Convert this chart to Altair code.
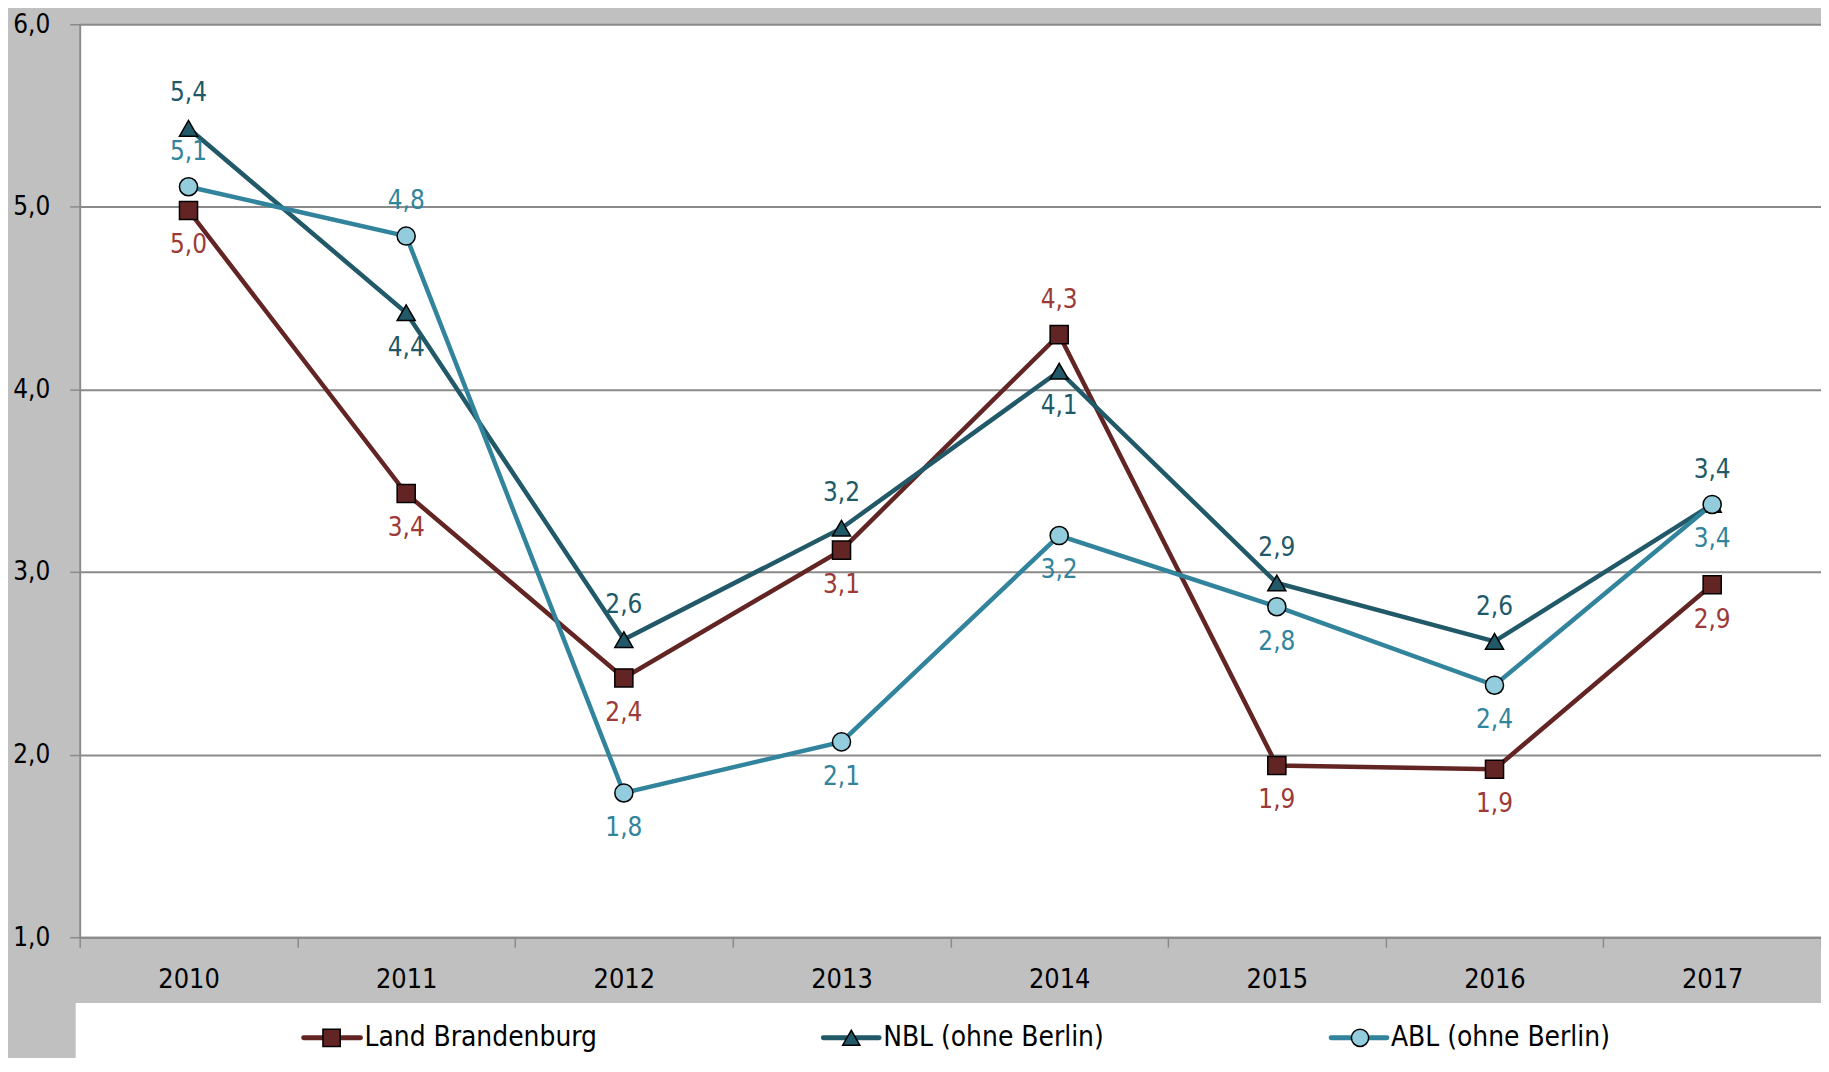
import altair as alt
import pandas as pd

years = ["2010", "2011", "2012", "2013", "2014", "2015", "2016", "2017"]
series_names = ["Land Brandenburg", "NBL (ohne Berlin)", "ABL (ohne Berlin)"]
brandenburg = [4.98, 3.43, 2.42, 3.12, 4.30, 1.94, 1.92, 2.93]
nbl = [5.43, 4.42, 2.63, 3.24, 4.10, 2.94, 2.62, 3.37]
abl = [5.11, 4.84, 1.79, 2.07, 3.20, 2.81, 2.38, 3.37]
brandenburg_pos = ["below", "below", "below", "below", "above", "below", "below", "below"]
nbl_pos = ["above", "below", "above", "above", "below", "above", "above", "above"]
abl_pos = ["above", "above", "below", "below", "below", "below", "below", "below"]
y_ticks = [1, 2, 3, 4, 5, 6]

line_colors = ["#632523", "#215968", "#31849B"]
marker_fills = ["#632523", "#215968", "#93CDDD"]
label_colors = ["#9B3A37", "#215968", "#31849B"]
shapes = ["square", "triangle-up", "circle"]

FONT = "DejaVu Sans Condensed, Liberation Sans Narrow, sans-serif"
GRID = "#8A8A8A"

W, H = 1749, 917

x_enc = alt.X(
    "year:O",
    scale=alt.Scale(type="band", domain=years, paddingInner=0, paddingOuter=0),
    bandPosition=0.5,
    axis=alt.Axis(
        title=None, labelAngle=0, tickBand="extent", tickSize=10, tickColor=GRID,
        tickWidth=1.5, domainColor=GRID, domainWidth=2, labelFontSize=27,
        labelFont=FONT, labelColor="black", labelPadding=20, grid=False,
    ),
)
y_enc = alt.Y(
    "value:Q",
    scale=alt.Scale(domain=[1, 6], nice=False, zero=False),
    axis=alt.Axis(
        title=None, values=y_ticks,
        labelExpr="replace(format(datum.value, '.1f'), '.', ',')",
        tickSize=10, tickColor=GRID, tickWidth=1.5, domainColor=GRID, domainWidth=2,
        grid=True, gridColor=GRID, gridWidth=2, labelFontSize=26, labelFont=FONT,
        labelColor="black", labelPadding=20,
    ),
)

layers = []

# white legend box
layers.append(
    alt.Chart(pd.DataFrame({"k": [0]})).mark_rect(color="white").encode(
        x=alt.value(-4), x2=alt.value(W), y=alt.value(983), y2=alt.value(1060)
    )
)

all_values = [brandenburg, nbl, abl]
all_pos = [brandenburg_pos, nbl_pos, abl_pos]

for i, name in enumerate(series_names):
    df = pd.DataFrame({
        "year": years,
        "value": all_values[i],
        "pos": all_pos[i],
    })
    df["label"] = [f"{v:.1f}".replace(".", ",") for v in df["value"]]
    base = alt.Chart(df)
    line = base.mark_line(color=line_colors[i], strokeWidth=4.5).encode(x=x_enc, y=y_enc)
    pts = base.mark_point(
        shape=shapes[i], filled=True, fill=marker_fills[i], stroke="black",
        strokeWidth=1.5, size=330, opacity=1,
    ).encode(x=x_enc, y=y_enc)
    above = base.transform_filter(alt.datum.pos == "above").mark_text(
        dy=-35, fontSize=26, font=FONT, color=label_colors[i], baseline="middle"
    ).encode(x=x_enc, y=y_enc, text="label:N")
    below = base.transform_filter(alt.datum.pos == "below").mark_text(
        dy=35, fontSize=26, font=FONT, color=label_colors[i], baseline="middle"
    ).encode(x=x_enc, y=y_enc, text="label:N")
    layers += [line, pts, above, below]

# legend entries
leg_rule_x = [(225, 282), (747, 803), (1257, 1313)]
leg_marker_x = [253, 775, 1286]
leg_text_x = [286, 807, 1317]
leg_y = 1018
for i, name in enumerate(series_names):
    ldf = pd.DataFrame({"series": [name]})
    lb = alt.Chart(ldf)
    layers.append(
        lb.mark_rule(color=line_colors[i], strokeWidth=5, strokeCap="round").encode(
            x=alt.value(leg_rule_x[i][0]), x2=alt.value(leg_rule_x[i][1]), y=alt.value(leg_y)
        )
    )
    layers.append(
        lb.mark_point(
            shape=shapes[i], filled=True, fill=marker_fills[i], stroke="black",
            strokeWidth=1.5, size=300, opacity=1,
        ).encode(x=alt.value(leg_marker_x[i]), y=alt.value(leg_y))
    )
    layers.append(
        lb.mark_text(align="left", baseline="middle", fontSize=28, font=FONT, color="black").encode(
            x=alt.value(leg_text_x[i]), y=alt.value(leg_y), text="series:N"
        )
    )

chart = alt.layer(*layers).properties(
    width=W, height=H,
    autosize=alt.AutoSizeParams(type="none"),
    padding={"left": 72, "top": 14, "right": 0, "bottom": 119},
    background="#C0C0C0",
).configure_view(fill="white", stroke=None)

chart.save("out.html", embed_options={"renderer": "svg", "actions": False})
